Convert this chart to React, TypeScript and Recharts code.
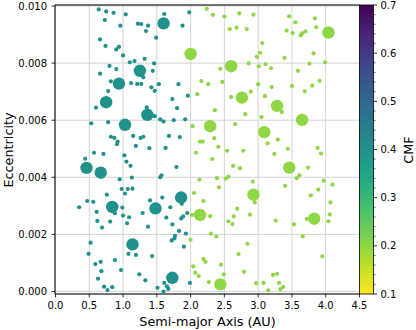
import { CartesianGrid, Scatter, ScatterChart, XAxis, YAxis } from 'recharts';

const FONT = 'DejaVu Sans';
const TEAL = '#21918c'; // CMF ~0.4
const LIME = '#8fd744'; // CMF ~0.2

const xTicks = [0, 0.5, 1, 1.5, 2, 2.5, 3, 3.5, 4, 4.5];
const yTicks = [0, 0.002, 0.004, 0.006, 0.008, 0.01];
const cmfTicks = [0.1, 0.2, 0.3, 0.4, 0.5, 0.6, 0.7];

// [semi-major axis (AU), eccentricity]
const innerSmall = [
  [0.64, 0.00988], [0.75, 0.00981], [0.86, 0.00976], [1.04, 0.00971], [0.73, 0.00951], [0.96, 0.00931],
  [1.22, 0.00938], [1.27, 0.00937], [1.37, 0.00931], [1.34, 0.00912], [1.49, 0.00889], [0.66, 0.00883],
  [0.74, 0.0086], [0.9, 0.00848], [0.94, 0.00857], [1.0, 0.00827], [1.17, 0.00807], [1.1, 0.00803],
  [1.32, 0.00815], [1.46, 0.00799], [0.8, 0.0079], [0.9, 0.00779], [1.3, 0.0075], [1.44, 0.00773],
  [0.66, 0.00763], [0.82, 0.00736], [1.12, 0.0073], [1.21, 0.00727], [1.27, 0.00727], [1.42, 0.00715],
  [1.47, 0.00703], [1.53, 0.00726], [0.78, 0.00702], [0.6, 0.00644], [1.35, 0.00645], [1.47, 0.00614],
  [1.55, 0.00603], [1.6, 0.00595], [0.53, 0.00589], [0.78, 0.00593], [0.82, 0.00542], [0.87, 0.00538],
  [0.92, 0.00525], [0.91, 0.00516], [1.15, 0.00545], [1.26, 0.00538], [1.3, 0.00542], [1.19, 0.0051],
  [1.39, 0.00502], [1.61, 0.00972], [1.98, 0.00978], [1.88, 0.00931], [1.82, 0.00726], [1.73, 0.00674],
  [1.96, 0.00686], [1.8, 0.00642], [1.75, 0.006], [1.92, 0.00603], [1.68, 0.00545], [1.84, 0.00541],
  [1.63, 0.00503], [0.57, 0.00486], [0.71, 0.00482], [1.02, 0.00477], [0.44, 0.00465], [1.05, 0.00455],
  [1.11, 0.0044], [1.13, 0.00399], [0.95, 0.00393], [1.55, 0.004], [1.57, 0.00407], [0.98, 0.00359],
  [1.07, 0.00359], [1.14, 0.0036], [1.03, 0.00343], [0.76, 0.00339], [0.47, 0.00317], [0.56, 0.00314],
  [0.35, 0.00295], [0.88, 0.00274], [0.99, 0.00294], [0.61, 0.00279], [1.0, 0.00266], [1.09, 0.0026],
  [0.62, 0.00247], [0.81, 0.00245], [1.06, 0.00239], [0.69, 0.00224], [1.4, 0.00319], [1.29, 0.00275],
  [1.58, 0.00329], [1.37, 0.00227], [0.52, 0.00171], [0.49, 0.00132], [1.08, 0.00132], [1.19, 0.00128],
  [1.43, 0.00124], [0.59, 0.00096], [0.67, 0.00104], [0.88, 0.0011], [0.97, 0.00075], [0.68, 0.00071],
  [0.63, 0.00045], [1.24, 0.0006], [1.33, 0.00039], [0.72, 0.00017], [0.77, 0.00005], [0.84, 0.00015],
  [1.51, 0.00013], [1.6, 0.0], [1.79, 0.00436], [1.87, 0.00307], [1.7, 0.00295], [1.64, 0.00259],
  [1.73, 0.00235], [1.86, 0.00256], [1.89, 0.00263], [1.95, 0.00275], [1.83, 0.00212], [1.93, 0.00203],
  [1.77, 0.00195], [1.76, 0.00186], [1.72, 0.00179], [1.9, 0.00157], [1.61, 0.0003], [1.65, 0.00018],
  [1.67, 0.00009], [1.99, 0.0003],
];

const innerLarge = [
  [1.6, 0.00939], [1.25, 0.00773], [0.94, 0.00728], [0.75, 0.00663], [1.36, 0.00619], [1.03, 0.00584],
  [0.46, 0.00433], [0.67, 0.00416], [0.84, 0.00296], [1.48, 0.00291], [1.86, 0.00329], [1.14, 0.00165],
  [1.73, 0.00048],
];

const outerSmall = [
  [2.24, 0.0099], [2.33, 0.00969], [2.5, 0.00963], [2.72, 0.00974], [2.93, 0.0097], [2.58, 0.00919],
  [2.68, 0.00924], [2.83, 0.00919], [3.06, 0.0087], [3.03, 0.00836], [2.98, 0.00822], [2.86, 0.00799],
  [3.01, 0.00789], [3.11, 0.00796], [2.44, 0.0078], [2.16, 0.00737], [2.26, 0.00726], [2.47, 0.00734],
  [3.0, 0.00726], [2.1, 0.00691], [2.6, 0.00681], [2.89, 0.007], [3.1, 0.00684], [2.36, 0.00635],
  [2.81, 0.00621], [3.05, 0.00611], [2.03, 0.00579], [2.66, 0.00586], [2.14, 0.00525], [2.18, 0.00525],
  [2.35, 0.00537], [2.41, 0.00507], [3.14, 0.00519], [3.46, 0.00964], [3.55, 0.00943], [3.84, 0.00957],
  [3.86, 0.00926], [3.42, 0.00914], [3.51, 0.00905], [3.63, 0.00897], [3.65, 0.00904], [3.7, 0.00911],
  [3.82, 0.00834], [3.39, 0.00818], [3.76, 0.00798], [3.99, 0.00803], [3.19, 0.00782], [3.59, 0.00773],
  [3.91, 0.00738], [3.8, 0.00721], [3.5, 0.0072], [3.69, 0.00701], [3.2, 0.00716], [3.35, 0.00629],
  [3.29, 0.00532], [3.44, 0.005], [3.88, 0.00503], [2.08, 0.00486], [2.54, 0.00493], [2.78, 0.00493],
  [2.32, 0.00464], [2.63, 0.0044], [2.73, 0.00432], [2.13, 0.00392], [2.39, 0.00397], [2.52, 0.00395],
  [2.56, 0.00402], [2.92, 0.00385], [2.42, 0.00365], [2.95, 0.00312], [2.05, 0.00345], [2.19, 0.00317],
  [2.69, 0.0029], [2.88, 0.00269], [2.02, 0.00268], [2.29, 0.00264], [2.64, 0.00263], [2.56, 0.00246],
  [2.62, 0.00236], [2.3, 0.00203], [2.38, 0.00193], [2.0, 0.00181], [2.84, 0.00167], [2.71, 0.00131],
  [2.19, 0.00114], [2.22, 0.00104], [2.45, 0.00094], [2.04, 0.00088], [2.79, 0.00069], [2.07, 0.00066],
  [2.12, 0.00054], [2.49, 0.0006], [2.27, 0.00033], [2.97, 0.00029], [3.08, 0.0003], [3.15, 0.00004],
  [3.24, 0.00482], [3.93, 0.00483], [3.74, 0.00434], [3.57, 0.00397], [3.61, 0.00407], [3.97, 0.00388],
  [4.1, 0.00374], [3.4, 0.0037], [3.89, 0.00357], [3.78, 0.00337], [4.07, 0.00312], [4.06, 0.0027],
  [4.04, 0.00246], [3.72, 0.00254], [3.26, 0.00248], [3.53, 0.00235], [3.66, 0.00193], [3.95, 0.00123],
  [3.22, 0.00058], [3.28, 0.00062], [3.31, 0.0003], [3.37, 0.00016], [3.33, 0.00008],
];

const outerLarge = [
  [2.0, 0.00832], [2.6, 0.00789], [2.76, 0.00679], [2.29, 0.00579], [3.09, 0.00558], [4.04, 0.00907],
  [3.28, 0.0065], [3.65, 0.00601], [2.93, 0.00339], [2.14, 0.00268], [3.46, 0.00434], [3.83, 0.00255],
  [2.44, 0.00025],
];

const toPts = (arr: number[][]) => arr.map(([a, e]) => ({ a, e }));

const dot = (r: number, fill: string) => (p: any) => <circle cx={p.cx} cy={p.cy} r={r} fill={fill} />;

// viridis, reversed for the colour bar (0.7 top -> 0.1 bottom)
const viridis = ['#440154', '#482475', '#414487', '#355f8d', '#2a788e', '#21918c', '#22a884', '#44bf70', '#7ad151', '#bddf26', '#fde725'];

// plot box
const L = 55;
const R = 359.5;
const T = 5;
const B = 294;
const CB_R = 373.5;

const tickStyle = { fill: '#000', fontSize: 10, fontFamily: FONT };

export default function App() {
  const cbY = (v: number) => B - ((v - 0.1) / 0.6) * (B - T);
  const minor: number[] = [];
  for (let i = 5; i <= 35; i++) if (i % 5 !== 0) minor.push(i * 0.02);

  return (
    <div style={{ position: 'absolute', left: 0, top: 0, width: 416, height: 330, background: '#fff' }}>
      <ScatterChart width={416} height={330} margin={{ top: T, right: 416 - R, bottom: 0, left: 5 }}>
        <CartesianGrid stroke="#d4d4d4" strokeWidth={1} />
        <XAxis
          type="number"
          dataKey="a"
          domain={[-0.007, 4.5]}
          ticks={xTicks}
          allowDataOverflow
          height={330 - B}
          tickFormatter={(v: number) => v.toFixed(1)}
          tick={tickStyle}
          tickSize={3.5}
          tickMargin={4.5}
          axisLine={{ stroke: '#000', strokeWidth: 1 }}
          tickLine={{ stroke: '#000', strokeWidth: 0.8 }}
        />
        <YAxis
          type="number"
          dataKey="e"
          domain={[-0.000088, 0.010035]}
          ticks={yTicks}
          allowDataOverflow
          width={L - 5}
          tickFormatter={(v: number) => v.toFixed(3)}
          tick={tickStyle}
          tickSize={3.5}
          tickMargin={4.5}
          axisLine={{ stroke: '#000', strokeWidth: 1 }}
          tickLine={{ stroke: '#000', strokeWidth: 0.8 }}
        />
        <Scatter data={toPts(innerSmall)} shape={dot(2.1, TEAL)} isAnimationActive={false} />
        <Scatter data={toPts(outerSmall)} shape={dot(2.1, LIME)} isAnimationActive={false} />
        <Scatter data={toPts(innerLarge)} shape={dot(6.2, TEAL)} isAnimationActive={false} />
        <Scatter data={toPts(outerLarge)} shape={dot(6.2, LIME)} isAnimationActive={false} />
      </ScatterChart>

      <svg width={416} height={330} style={{ position: 'absolute', left: 0, top: 0, pointerEvents: 'none' }}>
        <defs>
          <linearGradient id="cmf" x1="0" y1="0" x2="0" y2="1">
            {viridis.map((c, i) => (
              <stop key={c} offset={i / (viridis.length - 1)} stopColor={c} />
            ))}
          </linearGradient>
        </defs>
        <line x1={L} y1={T} x2={R} y2={T} stroke="#000" strokeWidth={1} />
        <rect x={R} y={T} width={CB_R - R} height={B - T} fill="url(#cmf)" stroke="#000" strokeWidth={0.8} />
        {cmfTicks.map((v) => (
          <g key={v}>
            <line x1={CB_R} x2={CB_R + 3.5} y1={cbY(v)} y2={cbY(v)} stroke="#000" strokeWidth={0.8} />
            <text x={CB_R + 7} y={cbY(v)} dy="0.36em" fontSize={10} fontFamily={FONT} fill="#000">
              {v.toFixed(1)}
            </text>
          </g>
        ))}
        {minor.map((v) => (
          <line key={v} x1={CB_R} x2={CB_R + 2} y1={cbY(v)} y2={cbY(v)} stroke="#000" strokeWidth={0.6} />
        ))}
        <text x={413} y={150} transform="rotate(-90 413 150)" textAnchor="middle" fontSize={12.8} fontFamily={FONT}>
          CMF
        </text>
        <text x={207.5} y={326} textAnchor="middle" fontSize={12.8} fontFamily={FONT}>
          Semi-major Axis (AU)
        </text>
        <text x={12.5} y={150} transform="rotate(-90 12.5 150)" textAnchor="middle" fontSize={12.8} fontFamily={FONT}>
          Eccentricity
        </text>
      </svg>
    </div>
  );
}
